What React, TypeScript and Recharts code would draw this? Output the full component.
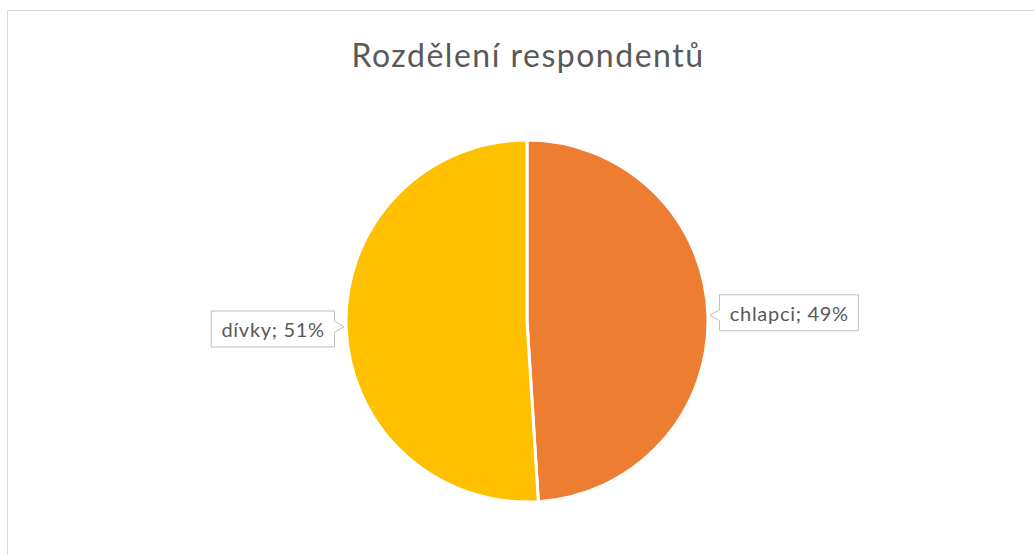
import React from 'react';
import { PieChart, Pie, Cell } from 'recharts';

const categories = ['chlapci', 'dívky'];
const values = [49, 51];
const colors = ['#ED7D31', '#FFC000'];
const title = 'Rozdělení respondentů';

const data = categories.map((name, i) => ({ name, value: values[i] }));

const FONT = 'Lato, "Liberation Sans", sans-serif';
const LABEL_SIZE = 20;
const LABEL_SPACING = 0.7;

let ctx: CanvasRenderingContext2D | null = null;
function measure(text: string): number {
  if (!ctx) {
    const c = document.createElement('canvas');
    ctx = c.getContext('2d');
  }
  if (!ctx) return text.length * 9;
  ctx.font = `${LABEL_SIZE}px ${FONT}`;
  return ctx.measureText(text).width + LABEL_SPACING * text.length;
}

const RAD = Math.PI / 180;

function renderLabel(props: any) {
  const { cx, cy, midAngle, outerRadius, name, value } = props;
  const text = `${name}; ${value}%`;
  const cos = Math.cos(-midAngle * RAD);
  const sin = Math.sin(-midAngle * RAD);
  const tipX = cx + (outerRadius + 2) * cos;
  const tipY = cy + (outerRadius + 2) * sin;
  const w = measure(text) + 20;
  const h = 36;
  const re = outerRadius + 11.5;
  const right = cos >= 0;
  const centerX = right ? cx + re + w / 2 : cx - re - w / 2;
  const t = (centerX - cx) / cos;
  const centerY = cy + t * sin;
  const left = centerX - w / 2;
  const top = centerY - h / 2;
  const rightX = centerX + w / 2;
  const bottom = centerY + h / 2;
  const bTop = Math.max(top + 2, tipY - 5.5);
  const bBot = Math.min(bottom - 2, tipY + 5.5);
  let d: string;
  if (right) {
    d = `M${left},${top} H${rightX} V${bottom} H${left} V${bBot} L${tipX},${tipY} L${left},${bTop} Z`;
  } else {
    d = `M${left},${top} H${rightX} V${bTop} L${tipX},${tipY} L${rightX},${bBot} V${bottom} H${left} Z`;
  }
  return (
    <g key={`lbl-${name}`}>
      <path d={d} fill="#ffffff" stroke="#bfbfbf" strokeWidth={1} />
      <text
        x={centerX + LABEL_SPACING / 2}
        y={centerY}
        textAnchor="middle"
        dominantBaseline="central"
        fontFamily={FONT}
        fontSize={LABEL_SIZE}
        letterSpacing={LABEL_SPACING}
        fill="#595959"
      >
        {text}
      </text>
    </g>
  );
}

export default function App() {
  return (
    <div
      style={{
        position: 'absolute',
        left: 0,
        top: 0,
        width: 1034,
        height: 555,
        overflow: 'hidden',
        background: '#ffffff',
      }}
    >
      <div
        style={{
          position: 'absolute',
          left: 7,
          top: 10,
          width: 1100,
          height: 700,
          border: '1px solid #d9d9d9',
          boxSizing: 'border-box',
        }}
      />
      <div
        style={{
          position: 'absolute',
          left: 0,
          top: 34,
          width: 1056,
          textAlign: 'center',
          fontFamily: FONT,
          fontSize: 32,
          letterSpacing: 1.5,
          color: '#595959',
          lineHeight: '42px',
        }}
      >
        {title}
      </div>
      <div style={{ position: 'absolute', left: 0, top: 0 }}>
        <PieChart width={1034} height={555} margin={{ top: 0, right: 0, bottom: 0, left: 0 }}>
          <Pie
            data={data}
            dataKey="value"
            nameKey="name"
            cx={527}
            cy={321}
            outerRadius={181}
            startAngle={90}
            endAngle={-270}
            stroke="#ffffff"
            strokeWidth={3}
            label={renderLabel}
            labelLine={false}
            isAnimationActive={false}
          >
            {data.map((d, i) => (
              <Cell key={d.name} fill={colors[i]} />
            ))}
          </Pie>
        </PieChart>
      </div>
    </div>
  );
}
